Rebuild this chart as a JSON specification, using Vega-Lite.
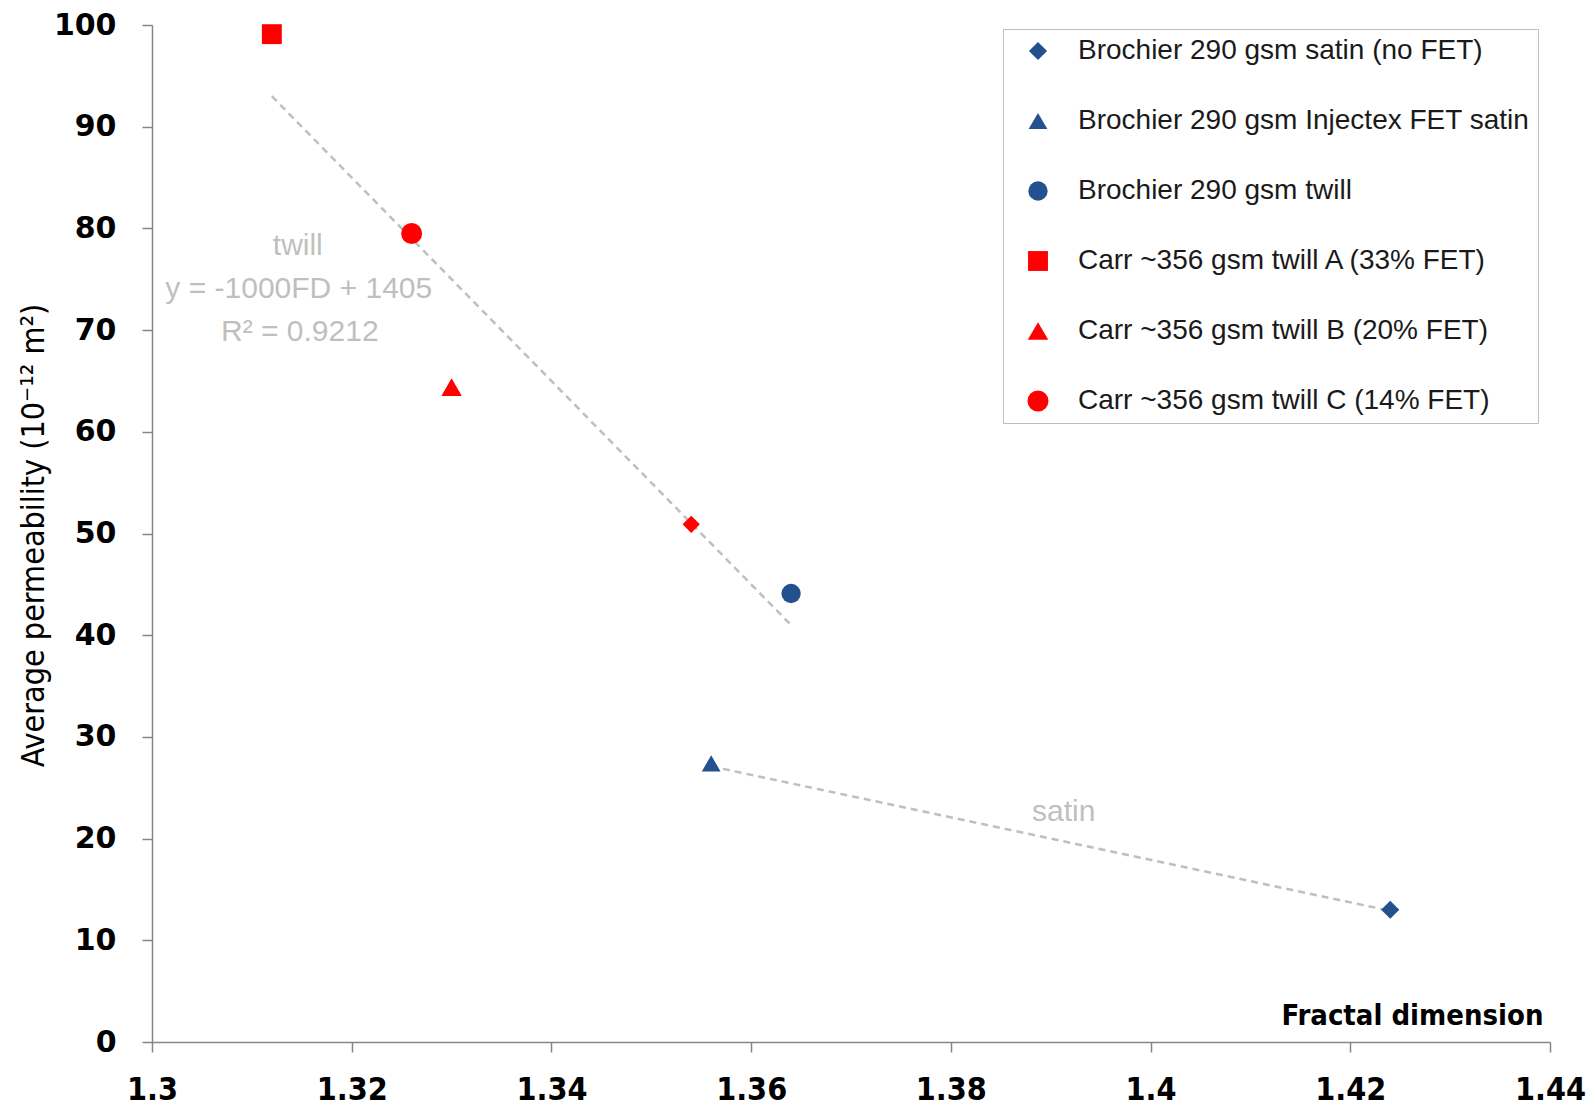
{
  "$schema": "https://vega.github.io/schema/vega-lite/v6.json",
  "width": 1398,
  "height": 1017,
  "autosize": {"type": "none"},
  "padding": {"left": 152, "top": 25, "right": 43, "bottom": 70},
  "background": "white",
  "config": {"view": {"stroke": null}, "axis": {"grid": false}},
  "encoding": {
    "x": {
      "field": "fd", "type": "quantitative",
      "scale": {"domain": [1.3, 1.44], "nice": false, "zero": false},
      "axis": {
        "values": [1.3, 1.32, 1.34, 1.36, 1.38, 1.4, 1.42, 1.44],
        "format": ".2~f",
        "domainColor": "#868686", "domainWidth": 1.5,
        "tickColor": "#868686", "tickSize": 10, "tickWidth": 1.5,
        "labelFont": "DejaVu Sans Condensed, Liberation Sans", "labelFontWeight": "bold", "labelFontSize": 32,
        "labelColor": "black", "labelPadding": 22, "labelFlush": false,
        "title": "Fractal dimension",
        "titleFont": "DejaVu Sans Condensed, Liberation Sans", "titleFontSize": 29, "titleFontWeight": "bold",
        "titleColor": "black",
        "titleX": 1391, "titleY": -27, "titleAlign": "right", "titleBaseline": "middle"
      }
    },
    "y": {
      "field": "perm", "type": "quantitative",
      "scale": {"domain": [0, 100], "nice": false},
      "axis": {
        "values": [0, 10, 20, 30, 40, 50, 60, 70, 80, 90, 100],
        "domainColor": "#868686", "domainWidth": 1.5,
        "tickColor": "#868686", "tickSize": 10, "tickWidth": 1.5,
        "labelFont": "DejaVu Sans", "labelFontWeight": "bold", "labelFontSize": 30,
        "labelColor": "black", "labelPadding": 26, "labelFlush": false,
        "title": "Average permeability (10⁻¹² m²)",
        "titleFont": "DejaVu Sans Condensed, Liberation Sans", "titleFontSize": 32, "titleFontWeight": "normal",
        "titleColor": "black",
        "titleX": -119, "titleY": 510, "titleAngle": -90,
        "titleAlign": "center", "titleBaseline": "middle"
      }
    }
  },
  "layer": [
    {
      "data": {"values": [
        {"trend": "twill", "fd": 1.312, "perm": 93.0},
        {"trend": "twill", "fd": 1.364, "perm": 41.0},
        {"trend": "satin", "fd": 1.356, "perm": 27.1},
        {"trend": "satin", "fd": 1.424, "perm": 12.9}
      ]},
      "mark": {"type": "line", "strokeDash": [7, 5], "color": "#bfbfbf", "strokeWidth": 2.5},
      "encoding": {"detail": {"field": "trend"}}
    },
    {
      "data": {"values": [
        {"label": "twill", "fd": 1.3146, "perm": 78.3},
        {"label": "y = -1000FD + 1405", "fd": 1.3147, "perm": 74.0},
        {"label": "R² = 0.9212", "fd": 1.3148, "perm": 69.8},
        {"label": "satin", "fd": 1.3913, "perm": 22.6}
      ]},
      "mark": {"type": "text", "font": "Liberation Sans", "fontSize": 30, "color": "#bfbfbf", "align": "center", "baseline": "middle"},
      "encoding": {"text": {"field": "label"}}
    },
    {
      "data": {"values": [
        {"series": "Brochier 290 gsm satin (no FET)", "fd": 1.424, "perm": 13.0},
        {"series": "Brochier 290 gsm Injectex FET satin", "fd": 1.356, "perm": 27.4},
        {"series": "Brochier 290 gsm twill", "fd": 1.364, "perm": 44.1},
        {"series": "Carr ~356 gsm twill A (33% FET)", "fd": 1.312, "perm": 99.1},
        {"series": "Carr ~356 gsm twill B (20% FET)", "fd": 1.330, "perm": 64.4},
        {"series": "Carr ~356 gsm twill C (14% FET)", "fd": 1.326, "perm": 79.5}
      ]},
      "mark": {"type": "point", "filled": true, "opacity": 1},
      "encoding": {
        "color": {
          "field": "series", "type": "nominal",
          "scale": {
            "domain": ["Brochier 290 gsm satin (no FET)", "Brochier 290 gsm Injectex FET satin", "Brochier 290 gsm twill", "Carr ~356 gsm twill A (33% FET)", "Carr ~356 gsm twill B (20% FET)", "Carr ~356 gsm twill C (14% FET)"],
            "range": ["#23508e", "#23508e", "#23508e", "#ff0000", "#ff0000", "#ff0000"]
          },
          "legend": {
            "orient": "none", "legendX": 851, "legendY": 4,
            "title": null,
            "padding": 8, "rowPadding": 42,
            "symbolSize": 260, "symbolOffset": 13, "labelOffset": 26,
            "labelFont": "Liberation Sans", "labelFontSize": 28, "labelColor": "#1a1a1a",
            "labelLimit": 600,
            "strokeColor": "#bfbfbf", "fillColor": "white"
          }
        },
        "shape": {
          "field": "series", "type": "nominal",
          "scale": {
            "domain": ["Brochier 290 gsm satin (no FET)", "Brochier 290 gsm Injectex FET satin", "Brochier 290 gsm twill", "Carr ~356 gsm twill A (33% FET)", "Carr ~356 gsm twill B (20% FET)", "Carr ~356 gsm twill C (14% FET)"],
            "range": ["diamond", "triangle-up", "circle", "square", "triangle-up", "circle"]
          }
        },
        "size": {
          "field": "series", "type": "nominal",
          "scale": {
            "domain": ["Brochier 290 gsm satin (no FET)", "Brochier 290 gsm Injectex FET satin", "Brochier 290 gsm twill", "Carr ~356 gsm twill A (33% FET)", "Carr ~356 gsm twill B (20% FET)", "Carr ~356 gsm twill C (14% FET)"],
            "range": [330, 440, 380, 400, 440, 330]
          },
          "legend": null
        }
      }
    },
    {
      "data": {"values": [{"fd": 1.354, "perm": 50.9}]},
      "mark": {"type": "point", "filled": true, "opacity": 1, "shape": "diamond", "color": "#ff0000", "size": 300}
    }
  ]
}
